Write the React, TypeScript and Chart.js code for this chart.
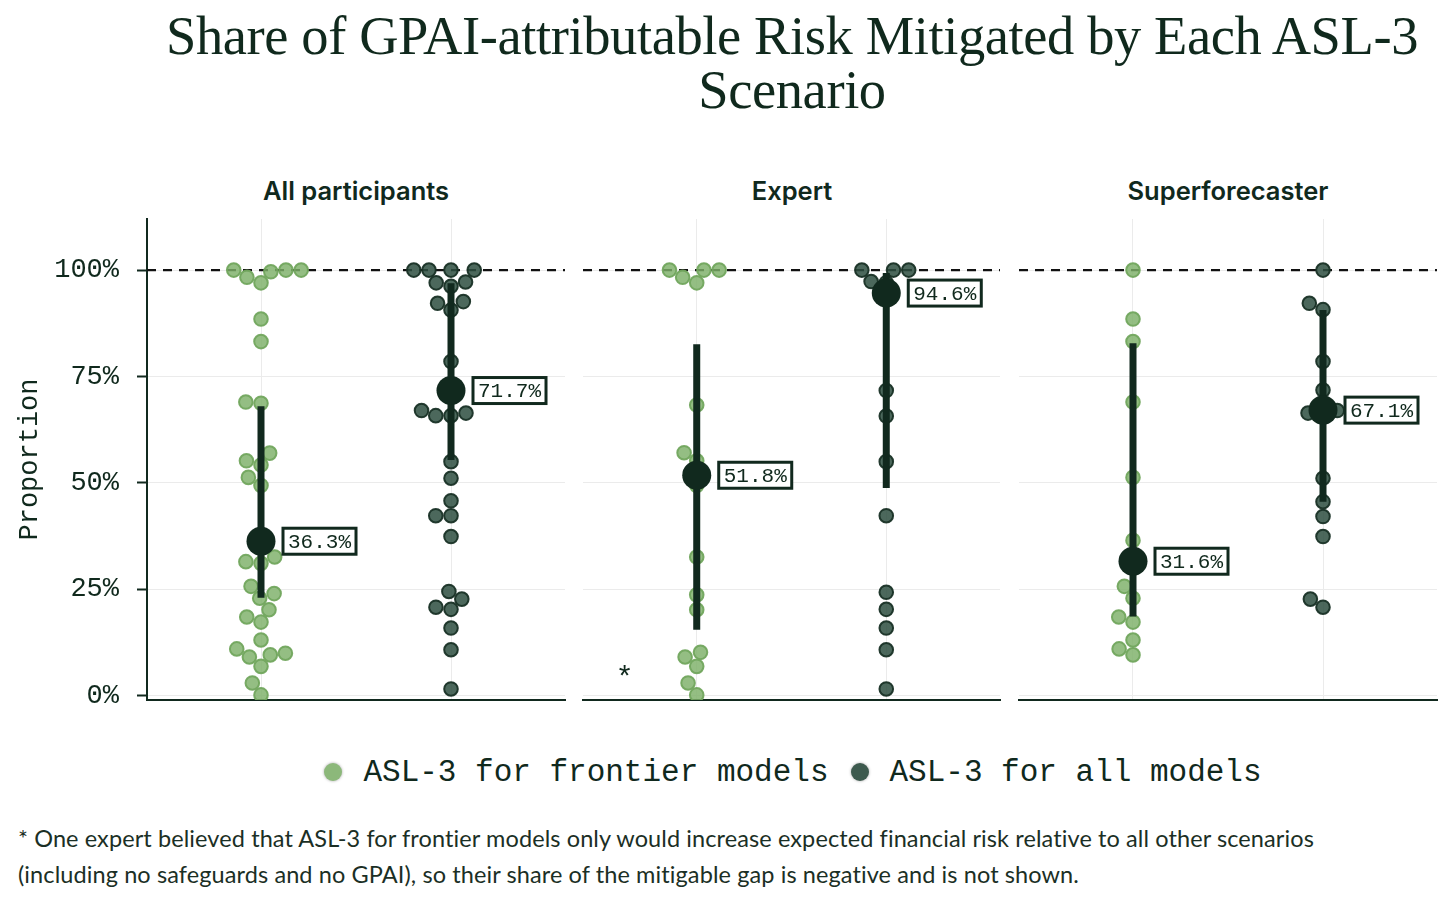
import { useEffect, useRef } from "react";
import { Chart, registerables } from "chart.js";

Chart.register(...registerables);

// ---- data ----
const panelTitles = ["All participants", "Expert", "Superforecaster"];
const scenarioNames = ["ASL-3 for frontier models", "ASL-3 for all models"];
const yTickValues = [0, 25, 50, 75, 100];

const allFrontier = [
  100, 99.6, 100, 100, 98.3, 97.0, 88.5, 83.2, 68.7, 69.0, 57.0, 55.2, 54.2,
  51.3, 49.4, 36.5, 32.6, 31.5, 31.1, 25.7, 24.0, 22.9, 20.2, 18.5, 17.3, 13.1,
  11.0, 10.0, 9.6, 9.1, 6.9, 3.0, 0.2,
];
const allAll = [
  100, 100, 100, 100, 97.0, 97.2, 96.2, 92.2, 92.6, 90.6, 78.5, 71.8, 67.0,
  66.4, 65.8, 65.8, 55.0, 51.1, 45.8, 42.3, 42.3, 37.4, 24.5, 22.7, 20.8, 20.3,
  15.9, 10.8, 1.6,
];
const expertFrontier = [
  100, 100, 100, 98.3, 97.0, 68.3, 57.1, 55.2, 49.4, 32.6, 23.7, 20.2, 10.2,
  9.1, 6.9, 3.0, 0.2,
];
const expertAll = [
  100, 100, 100, 97.0, 97.3, 71.7, 65.7, 55.0, 42.3, 24.3, 20.3, 15.9, 10.8, 1.6,
];
const superFrontier = [
  100, 88.5, 83.2, 69.0, 51.3, 36.5, 31.5, 25.7, 22.9, 18.5, 17.3, 13.1, 11.0, 9.6,
];
const superAll = [
  100, 92.2, 90.7, 78.5, 71.8, 67.0, 66.4, 65.8, 51.1, 45.6, 42.1, 37.4, 22.7, 20.8,
];

const medianFrontier = [36.3, 51.8, 31.6];
const medianAll = [71.7, 94.6, 67.1];
const lowFrontier = [23.0, 15.5, 18.6];
const highFrontier = [68.0, 82.6, 82.8];
const lowAll = [55.4, 48.8, 45.6];
const highAll = [96.9, 99.3, 90.6];

// ---- styles ----
const TEXT = "#10291d";
const DARK = "#11291e";
const GRID = "#ebebeb";
const GREEN_FILL = "rgba(125,176,104,0.82)";
const GREEN_BORDER = "rgba(114,167,94,0.95)";
const DARK_FILL = "rgba(45,77,63,0.85)";
const DARK_BORDER = "rgba(25,50,38,0.95)";
const MONO = '"Liberation Mono", "DejaVu Sans Mono", monospace';

// simple beeswarm, lowest values placed first (like seaborn)
function swarmOffsets(ys: number[], d: number): number[] {
  const order = ys.map((_, i) => i).sort((a, b) => ys[b] - ys[a]);
  const placed: { x: number; y: number }[] = [];
  const out = new Array(ys.length).fill(0);
  for (const i of order) {
    const y = ys[i];
    const near = placed.filter((p) => Math.abs(p.y - y) < d);
    const lefts: number[] = [];
    const rights: number[] = [];
    near.forEach((p) => {
      const dx = Math.sqrt(Math.max(d * d - (p.y - y) ** 2, 0)) * 1.05;
      lefts.push(p.x - dx);
      rights.push(p.x + dx);
    });
    const cands = [0, ...lefts, ...rights]
      .map((x, k) => ({ x, k }))
      .sort((a, b) => Math.abs(a.x) - Math.abs(b.x) || a.k - b.k);
    let chosen = 0;
    for (const c of cands) {
      if (near.every((p) => (p.x - c.x) ** 2 + (p.y - y) ** 2 >= d * d * 0.999)) {
        chosen = c.x;
        break;
      }
    }
    placed.push({ x: chosen, y });
    out[i] = chosen;
  }
  return out;
}

const swarmPlugin = {
  id: "swarm",
  afterDatasetsUpdate(chart: any) {
    chart.data.datasets.forEach((ds: any, i: number) => {
      if (!ds.swarm) return;
      const meta = chart.getDatasetMeta(i);
      const offs = swarmOffsets(meta.data.map((p: any) => p.y), 14.5);
      meta.data.forEach((p: any, k: number) => {
        p.x = p.x + offs[k];
      });
    });
  },
};

const medianLabelPlugin = {
  id: "medianLabels",
  afterDatasetsDraw(chart: any) {
    const ctx = chart.ctx;
    chart.data.datasets.forEach((ds: any, i: number) => {
      if (!ds.medianLabel) return;
      const meta = chart.getDatasetMeta(i);
      meta.data.forEach((p: any, k: number) => {
        const text = ds.data[k].y.toFixed(1) + "%";
        ctx.save();
        ctx.font = `21px ${MONO}`;
        const w = ctx.measureText(text).width + 10;
        const h = 26;
        const left = p.x + 22;
        const top = p.y - h / 2;
        ctx.fillStyle = "#fff";
        ctx.fillRect(left, top, w, h);
        ctx.lineWidth = 3;
        ctx.strokeStyle = DARK;
        ctx.strokeRect(left, top, w, h);
        ctx.fillStyle = TEXT;
        ctx.textBaseline = "middle";
        ctx.fillText(text, left + 5, p.y + 1);
        ctx.restore();
      });
    });
  },
};

const notePlugin = {
  id: "note",
  afterDatasetsDraw(chart: any, _args: any, opts: any) {
    if (!opts || !opts.text) return;
    const ctx = chart.ctx;
    ctx.save();
    ctx.font = '30px "Liberation Sans", sans-serif';
    ctx.fillStyle = TEXT;
    ctx.textAlign = "center";
    ctx.textBaseline = "middle";
    ctx.fillText(
      opts.text,
      chart.scales.x.getPixelForValue(opts.x),
      chart.scales.y.getPixelForValue(opts.y)
    );
    ctx.restore();
  },
};

type PanelProps = {
  idx: number;
  frontier: number[];
  all: number[];
  showAxis: boolean;
  left: number;
  width: number;
  padLeft: number;
  padRight: number;
  note?: string;
};

function Panel({ idx, frontier, all, showAxis, left, width, padLeft, padRight, note }: PanelProps) {
  const canvasRef = useRef<HTMLCanvasElement>(null);
  const chartRef = useRef<Chart | null>(null);

  useEffect(() => {
    if (!canvasRef.current) return;
    if (chartRef.current) chartRef.current.destroy();

    const data: any = {
      datasets: [
        {
          type: "line",
          data: [
            { x: -0.6, y: 100 },
            { x: 1.6, y: 100 },
          ],
          borderColor: "#111",
          borderWidth: 2.2,
          borderDash: [9, 7],
          pointRadius: 0,
          order: 10,
        },
        {
          label: scenarioNames[0],
          data: frontier.map((v) => ({ x: 0, y: v })),
          swarm: true,
          backgroundColor: GREEN_FILL,
          borderColor: GREEN_BORDER,
          borderWidth: 2,
          pointRadius: 6.8,
          order: 6,
        },
        {
          label: scenarioNames[1],
          data: all.map((v) => ({ x: 1, y: v })),
          swarm: true,
          backgroundColor: DARK_FILL,
          borderColor: DARK_BORDER,
          borderWidth: 2,
          pointRadius: 6.8,
          order: 5,
        },
        {
          type: "line",
          data: [
            { x: 0, y: lowFrontier[idx] },
            { x: 0, y: highFrontier[idx] },
          ],
          borderColor: DARK,
          borderWidth: 7,
          borderCapStyle: "butt",
          pointRadius: 0,
          order: 3,
        },
        {
          type: "line",
          data: [
            { x: 1, y: lowAll[idx] },
            { x: 1, y: highAll[idx] },
          ],
          borderColor: DARK,
          borderWidth: 7,
          borderCapStyle: "butt",
          pointRadius: 0,
          order: 3,
        },
        {
          data: [
            { x: 0, y: medianFrontier[idx] },
            { x: 1, y: medianAll[idx] },
          ],
          medianLabel: true,
          backgroundColor: DARK,
          borderWidth: 0,
          pointRadius: 14.5,
          order: 1,
        },
      ],
    };

    chartRef.current = new Chart(canvasRef.current, {
      type: "scatter",
      data,
      options: {
        responsive: true,
        maintainAspectRatio: false,
        animation: false,
        events: [],
        layout: {
          autoPadding: false,
          padding: { left: padLeft, right: padRight, top: 49, bottom: 20 },
        },
        plugins: {
          legend: { display: false },
          tooltip: { enabled: false },
          note: note ? { text: note, x: -0.38, y: 4.5 } : {},
        } as any,
        scales: {
          x: {
            type: "linear",
            min: -0.6,
            max: 1.6,
            afterBuildTicks: (s: any) => {
              s.ticks = [{ value: 0 }, { value: 1 }];
            },
            afterFit: (s: any) => {
              s.height = 0;
              s.paddingLeft = 0;
              s.paddingRight = 0;
            },
            ticks: { display: false },
            grid: { color: GRID, drawTicks: false },
            border: { display: true, color: DARK, width: 2 },
          },
          y: {
            type: "linear",
            min: -1,
            max: 112,
            afterBuildTicks: (s: any) => {
              s.ticks = yTickValues.map((v) => ({ value: v }));
            },
            afterFit: (s: any) => {
              s.width = showAxis ? 147 - padLeft : 0;
              s.paddingTop = 0;
              s.paddingBottom = 0;
            },
            ticks: {
              display: showAxis,
              padding: 18,
              color: TEXT,
              font: { family: MONO, size: 27 },
              callback: (v: any) => v + "%",
            },
            grid: {
              color: GRID,
              drawTicks: showAxis,
              tickLength: 10,
              tickColor: DARK,
              tickWidth: 2,
            },
            border: { display: showAxis, color: DARK, width: 2 },
            title: {
              display: showAxis,
              text: "Proportion",
              color: TEXT,
              font: { family: MONO, size: 27 },
              padding: { top: 14, bottom: 0 },
            },
          },
        },
      },
      plugins: [swarmPlugin, medianLabelPlugin, notePlugin],
    });

    return () => {
      if (chartRef.current) {
        chartRef.current.destroy();
        chartRef.current = null;
      }
    };
  }, []);

  return (
    <div style={{ position: "absolute", left, top: 170, width, height: 550 }}>
      <canvas ref={canvasRef} />
    </div>
  );
}

const panelCenters = [356, 792, 1228];

export default function App() {
  return (
    <div
      style={{
        position: "absolute",
        left: 0,
        top: 0,
        width: 1456,
        height: 907,
        background: "#fff",
        overflow: "hidden",
        color: TEXT,
      }}
    >
      <div
        style={{
          position: "absolute",
          left: 92,
          width: 1400,
          top: 9,
          textAlign: "center",
          fontFamily: '"Liberation Serif", serif',
          fontSize: 54.5,
          lineHeight: "54px",
          letterSpacing: -0.4,
        }}
      >
        Share of GPAI-attributable Risk Mitigated by Each ASL-3
        <br />
        Scenario
      </div>

      {panelTitles.map((t, i) => (
        <div
          key={t}
          style={{
            position: "absolute",
            left: panelCenters[i] - 200,
            width: 400,
            top: 175,
            textAlign: "center",
            fontFamily: "Inter, sans-serif",
            fontWeight: 600,
            fontSize: 25.5,
            lineHeight: "32px",
          }}
        >
          {t}
        </div>
      ))}

      <Panel idx={0} frontier={allFrontier} all={allAll} showAxis left={0} width={572} padLeft={0} padRight={7} />
      <Panel idx={1} frontier={expertFrontier} all={expertAll} showAxis={false} left={576} width={430} padLeft={7} padRight={6} note="*" />
      <Panel idx={2} frontier={superFrontier} all={superAll} showAxis={false} left={1012} width={432} padLeft={7} padRight={7} />

      <div
        style={{
          position: "absolute",
          left: 0,
          width: 1456,
          top: 752,
          height: 40,
          display: "flex",
          justifyContent: "center",
          alignItems: "center",
          fontFamily: MONO,
          fontSize: 31,
          paddingLeft: 130,
          boxSizing: "border-box",
        }}
      >
        {scenarioNames.map((n, i) => (
          <span key={n} style={{ display: "flex", alignItems: "center", marginRight: i === 0 ? 22 : 0 }}>
            <span
              style={{
                display: "inline-block",
                width: 18,
                height: 18,
                borderRadius: "50%",
                background: i === 0 ? "#8cb87a" : "#3d5a4e",
                boxShadow: "0 0 3px rgba(0,0,0,0.35)",
                marginRight: 21,
              }}
            />
            {n}
          </span>
        ))}
      </div>

      <div
        style={{
          position: "absolute",
          left: 18,
          top: 820,
          width: 1436,
          fontFamily: "Lato, sans-serif",
          fontSize: 23.5,
          letterSpacing: 0.1,
          lineHeight: "36px",
          color: "#1b2f25",
          whiteSpace: "nowrap",
        }}
      >
        * One expert believed that ASL-3 for frontier models only would increase expected financial risk relative to all other scenarios
        <br />
        (including no safeguards and no GPAI), so their share of the mitigable gap is negative and is not shown.
      </div>
    </div>
  );
}
